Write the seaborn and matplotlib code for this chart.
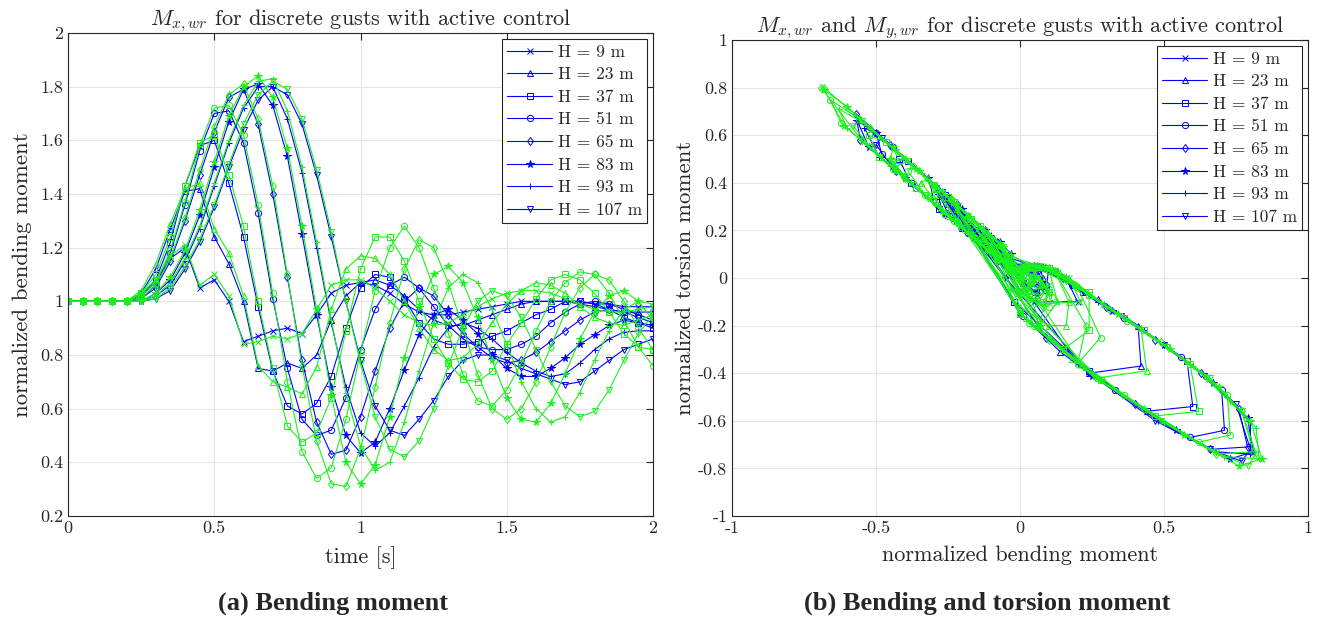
"""
gust response plots: bending moment over time and bending vs torsion
"""
import matplotlib as mpl
mpl.use('Agg')
from matplotlib import pyplot as plt
import numpy as np
import pandas as pd
import seaborn as sns

# time axis, 0.05 s per sample
time_s = [0.0, 0.05, 0.1, 0.15, 0.2, 0.25, 0.3, 0.35, 0.4, 0.45, 0.5, 0.55, 0.6, 0.65, 0.7,
          0.75, 0.8, 0.85, 0.9, 0.95, 1.0, 1.05, 1.1, 1.15, 1.2, 1.25, 1.3, 1.35, 1.4, 1.45,
          1.5, 1.55, 1.6, 1.65, 1.7, 1.75, 1.8, 1.85, 1.9, 1.95, 2.0]
heights = [9, 23, 37, 51, 65, 83, 93, 107]

# normalized bending moment, blue set
bend_blue_9 = [1, 1, 1, 1, 1, 1.02, 1.07, 1.16, 1.2, 1.05, 1.08, 1.0, 0.85, 0.87, 0.89, 0.9, 0.88, 0.95, 1.03, 1.06, 1.07,
               1.06, 1.03, 0.99, 0.96, 0.95, 0.95, 0.96, 0.97, 0.98, 0.99, 1.0, 1.0, 1.0, 1.0, 1.0, 0.99, 0.99, 0.98, 0.98, 0.98]
bend_blue_23 = [1, 1, 1, 1, 1, 1.03, 1.12, 1.27, 1.41, 1.42, 1.24, 1.14, 1.0, 0.75, 0.74, 0.77, 0.75, 0.8, 0.93, 1.02, 1.07,
                1.08, 1.06, 1.02, 0.97, 0.93, 0.91, 0.91, 0.93, 0.95, 0.97, 0.99, 1.0, 1.0, 1.0, 0.99, 0.98, 0.97, 0.96, 0.96, 0.96]
bend_blue_37 = [1, 1, 1, 1, 1, 1.02, 1.08, 1.22, 1.43, 1.58, 1.6, 1.44, 1.24, 0.98, 0.74, 0.61, 0.58, 0.62, 0.72, 0.9, 1.05,
                1.1, 1.09, 1.01, 0.92, 0.86, 0.84, 0.84, 0.85, 0.87, 0.89, 0.92, 0.95, 0.97, 1.0, 1.0, 0.99, 0.97, 0.94, 0.92, 0.9]
bend_blue_51 = [1, 1, 1, 1, 1, 1.01, 1.06, 1.18, 1.36, 1.56, 1.7, 1.71, 1.59, 1.33, 1.01, 0.75, 0.56, 0.5, 0.52, 0.64, 0.82,
                0.97, 1.06, 1.09, 1.05, 0.98, 0.91, 0.86, 0.83, 0.82, 0.82, 0.84, 0.87, 0.92, 0.96, 0.99, 1.0, 0.99, 0.97, 0.95, 0.93]
bend_blue_65 = [1, 1, 1, 1, 1, 1.01, 1.05, 1.15, 1.3, 1.47, 1.63, 1.76, 1.79, 1.66, 1.4, 1.09, 0.78, 0.55, 0.43, 0.445, 0.57,
                0.74, 0.9, 1.0, 1.05, 1.02, 0.95, 0.88, 0.83, 0.79, 0.77, 0.78, 0.81, 0.85, 0.89, 0.93, 0.96, 0.97, 0.96, 0.94, 0.92]
bend_blue_83 = [1, 1, 1, 1, 1, 1.0, 1.03, 1.08, 1.18, 1.32, 1.5, 1.67, 1.79, 1.81, 1.73, 1.54, 1.25, 0.95, 0.68, 0.5, 0.435,
                0.475, 0.6, 0.745, 0.875, 0.95, 0.97, 0.93, 0.88, 0.8, 0.75, 0.72, 0.72, 0.75, 0.79, 0.84, 0.875, 0.91, 0.93, 0.92, 0.91]
bend_blue_93 = [1, 1, 1, 1, 1, 1.0, 1.02, 1.06, 1.15, 1.27, 1.43, 1.59, 1.72, 1.8, 1.8, 1.68, 1.48, 1.2, 0.92, 0.68, 0.51,
                0.46, 0.51, 0.61, 0.715, 0.83, 0.9, 0.92, 0.9, 0.86, 0.81, 0.77, 0.74, 0.72, 0.73, 0.77, 0.82, 0.86, 0.885, 0.89, 0.89]
bend_blue_107 = [1, 1, 1, 1, 1, 1.0, 1.01, 1.04, 1.12, 1.22, 1.35, 1.5, 1.64, 1.75, 1.8, 1.77, 1.66, 1.47, 1.24, 1.0, 0.78,
                 0.61, 0.52, 0.5, 0.56, 0.63, 0.72, 0.78, 0.8, 0.8, 0.78, 0.75, 0.73, 0.71, 0.69, 0.7, 0.74, 0.78, 0.82, 0.84, 0.86]

# normalized bending moment, green set
bend_green_9 = [1, 1, 1, 1, 1, 1.03, 1.08, 1.17, 1.21, 1.06, 1.1, 1.02, 0.84, 0.85, 0.87, 0.86, 0.88, 0.97, 1.06, 1.08, 1.08,
                1.05, 1.0, 0.95, 0.92, 0.91, 0.92, 0.95, 0.98, 1.01, 1.03, 1.04, 1.04, 1.03, 1.01, 0.99, 0.97, 0.96, 0.96, 0.97, 0.98]
bend_green_23 = [1, 1, 1, 1, 1, 1.04, 1.14, 1.29, 1.42, 1.44, 1.27, 1.18, 1.02, 0.76, 0.7, 0.68, 0.655, 0.755, 0.97, 1.12, 1.17,
                 1.16, 1.1, 1.0, 0.9, 0.82, 0.78, 0.79, 0.84, 0.92, 0.99, 1.04, 1.07, 1.06, 1.03, 0.98, 0.94, 0.92, 0.91, 0.93, 0.95]
bend_green_37 = [1, 1, 1, 1, 1, 1.03, 1.1, 1.24, 1.43, 1.59, 1.62, 1.47, 1.28, 1.0, 0.75, 0.535, 0.475, 0.51, 0.64, 0.89, 1.12,
                 1.24, 1.24, 1.15, 1.0, 0.86, 0.77, 0.71, 0.7, 0.74, 0.84, 0.92, 1.01, 1.08, 1.1, 1.08, 1.03, 0.96, 0.88, 0.83, 0.82]
bend_green_51 = [1, 1, 1, 1, 1, 1.02, 1.07, 1.19, 1.37, 1.58, 1.72, 1.73, 1.62, 1.36, 1.03, 0.7, 0.44, 0.34, 0.38, 0.56, 0.81,
                 1.04, 1.2, 1.28, 1.2, 1.05, 0.88, 0.73, 0.63, 0.61, 0.67, 0.77, 0.89, 1.0, 1.07, 1.11, 1.1, 1.03, 0.93, 0.83, 0.76]
bend_green_65 = [1, 1, 1, 1, 1, 1.01, 1.06, 1.16, 1.31, 1.49, 1.65, 1.77, 1.81, 1.68, 1.43, 1.1, 0.76, 0.48, 0.32, 0.31, 0.45,
                 0.68, 0.92, 1.12, 1.23, 1.2, 1.07, 0.9, 0.73, 0.6, 0.56, 0.6, 0.7, 0.83, 0.96, 1.05, 1.1, 1.08, 1.0, 0.9, 0.82]
bend_green_83 = [1, 1, 1, 1, 1, 1.0, 1.03, 1.09, 1.19, 1.34, 1.52, 1.69, 1.8, 1.84, 1.76, 1.57, 1.28, 0.97, 0.65, 0.4, 0.32,
                 0.39, 0.57, 0.79, 0.98, 1.1, 1.13, 1.07, 0.94, 0.78, 0.64, 0.56, 0.55, 0.62, 0.73, 0.86, 0.96, 1.02, 1.04, 1.0, 0.93]
bend_green_93 = [1, 1, 1, 1, 1, 1.0, 1.02, 1.07, 1.16, 1.28, 1.44, 1.6, 1.73, 1.82, 1.83, 1.71, 1.5, 1.22, 0.93, 0.66, 0.46,
                 0.37, 0.4, 0.55, 0.74, 0.92, 1.05, 1.1, 1.07, 0.97, 0.84, 0.7, 0.6, 0.55, 0.57, 0.66, 0.78, 0.89, 0.97, 1.0, 0.99]
bend_green_107 = [1, 1, 1, 1, 1, 1.0, 1.01, 1.05, 1.13, 1.23, 1.36, 1.51, 1.66, 1.77, 1.82, 1.79, 1.68, 1.49, 1.26, 1.0, 0.77,
                  0.57, 0.45, 0.42, 0.48, 0.6, 0.76, 0.9, 1.0, 1.04, 1.02, 0.94, 0.82, 0.7, 0.61, 0.57, 0.59, 0.67, 0.78, 0.88, 0.95]

# normalized torsion moment, blue set
tors_blue_9 = [0, 0, 0, 0, 0, 0.05, 0.05, 0.0, -0.1, -0.1, -0.02, -0.05, 0.2, 0.18, 0.16, 0.15, 0.17, 0.1, 0.02, -0.02, -0.04,
               -0.07, -0.04, 0.01, 0.05, 0.07, 0.07, 0.06, 0.05, 0.04, 0.03, 0.02, 0.02, 0.02, 0.02, 0.02, 0.03, 0.03, 0.04, 0.04, 0.04]
tors_blue_23 = [0, 0, 0, 0, 0, 0.05, 0.03, -0.09, -0.2, -0.37, -0.4, -0.31, -0.15, 0.34, 0.33, 0.27, 0.31, 0.21, 0.07, 0.05, 0.04,
                0.0, -0.06, -0.03, 0.06, 0.1, 0.12, 0.12, 0.1, 0.08, 0.06, 0.04, 0.03, 0.03, 0.02, 0.03, 0.04, 0.05, 0.06, 0.06, 0.06]
tors_blue_37 = [0, 0, 0, 0, 0, 0.05, 0.04, -0.06, -0.22, -0.35, -0.54, -0.56, -0.39, -0.1, 0.35, 0.49, 0.5, 0.4, 0.29, 0.11, 0.05,
                0.04, -0.05, -0.02, 0.11, 0.18, 0.2, 0.2, 0.19, 0.17, 0.15, 0.12, 0.08, 0.06, 0.03, 0.02, 0.03, 0.05, 0.08, 0.1, 0.12]
tors_blue_51 = [0, 0, 0, 0, 0, 0.05, 0.05, -0.03, -0.17, -0.33, -0.47, -0.64, -0.67, -0.47, -0.16, 0.34, 0.55, 0.61, 0.52, 0.38, 0.19,
                0.03, 0.03, -0.03, -0.06, 0.04, 0.12, 0.18, 0.21, 0.22, 0.22, 0.2, 0.16, 0.11, 0.07, 0.04, 0.03, 0.03, 0.05, 0.07, 0.09]
tors_blue_65 = [0, 0, 0, 0, 0, 0.05, 0.05, 0.0, -0.12, -0.26, -0.4, -0.55, -0.71, -0.72, -0.53, -0.25, 0.31, 0.56, 0.69, 0.58, 0.45,
                0.27, 0.1, 0.03, 0.02, -0.04, 0.09, 0.17, 0.22, 0.27, 0.29, 0.28, 0.24, 0.2, 0.15, 0.11, 0.07, 0.06, 0.07, 0.09, 0.11]
tors_blue_83 = [0, 0, 0, 0, 0, 0.0, 0.05, 0.04, -0.03, -0.14, -0.28, -0.44, -0.59, -0.73, -0.76, -0.64, -0.41, 0.0, 0.42, 0.61, 0.66,
                0.55, 0.42, 0.27, 0.13, 0.05, 0.1, 0.15, 0.2, 0.29, 0.34, 0.37, 0.35, 0.27, 0.22, 0.17, 0.13, 0.09, 0.07, 0.15, 0.16]
tors_blue_93 = [0, 0, 0, 0, 0, 0.0, 0.05, 0.05, 0.0, -0.1, -0.22, -0.36, -0.5, -0.6, -0.74, -0.73, -0.6, -0.36, 0.12, 0.42, 0.6,
                0.63, 0.51, 0.41, 0.3, 0.18, 0.1, 0.15, 0.18, 0.22, 0.27, 0.32, 0.35, 0.33, 0.28, 0.24, 0.19, 0.15, 0.12, 0.15, 0.16]
tors_blue_107 = [0, 0, 0, 0, 0, 0.0, 0.04, 0.05, 0.03, -0.06, -0.16, -0.28, -0.41, -0.53, -0.72, -0.77, -0.72, -0.6, -0.4, -0.15, 0.3,
                 0.49, 0.59, 0.56, 0.46, 0.39, 0.29, 0.23, 0.21, 0.27, 0.29, 0.34, 0.36, 0.38, 0.39, 0.32, 0.27, 0.23, 0.19, 0.17, 0.15]

# normalized torsion moment, green set
tors_green_9 = [0, 0, 0, 0, 0, 0.05, 0.05, 0.0, -0.1, -0.11, -0.03, -0.06, 0.22, 0.2, 0.17, 0.18, 0.15, 0.07, 0.0, -0.03, -0.06,
                -0.09, -0.06, 0.03, 0.07, 0.09, 0.09, 0.07, 0.04, 0.01, -0.01, -0.02, -0.03, -0.03, -0.01, 0.01, 0.03, 0.05, 0.05, 0.05, 0.04]
tors_green_23 = [0, 0, 0, 0, 0, 0.05, 0.02, -0.11, -0.21, -0.39, -0.42, -0.34, -0.17, 0.33, 0.39, 0.42, 0.4, 0.26, 0.03, 0.03, -0.1,
                 -0.2, -0.2, -0.12, 0.14, 0.24, 0.29, 0.23, 0.17, 0.09, 0.04, 0.0, -0.03, -0.07, -0.05, 0.03, 0.08, 0.1, 0.11, 0.09, 0.07]
tors_green_37 = [0, 0, 0, 0, 0, 0.05, 0.04, -0.07, -0.22, -0.36, -0.56, -0.58, -0.43, -0.15, 0.34, 0.57, 0.6, 0.51, 0.38, 0.12, 0.03,
                 -0.06, -0.22, -0.3, -0.15, 0.22, 0.32, 0.38, 0.35, 0.27, 0.17, 0.08, 0.03, -0.02, -0.06, -0.1, -0.08, 0.09, 0.18, 0.25, 0.25]
tors_green_51 = [0, 0, 0, 0, 0, 0.05, 0.05, -0.03, -0.18, -0.35, -0.49, -0.66, -0.69, -0.49, -0.19, 0.39, 0.67, 0.75, 0.65, 0.46, 0.2,
                 0.05, -0.04, -0.25, -0.36, -0.2, 0.2, 0.36, 0.47, 0.45, 0.35, 0.24, 0.12, 0.03, 0.0, -0.08, -0.12, -0.09, 0.14, 0.25, 0.33]
tors_green_65 = [0, 0, 0, 0, 0, 0.05, 0.05, -0.01, -0.13, -0.27, -0.42, -0.56, -0.73, -0.74, -0.55, -0.26, 0.33, 0.63, 0.8, 0.8, 0.58,
                 0.34, 0.08, 0.03, -0.2, -0.36, -0.2, 0.17, 0.36, 0.5, 0.49, 0.42, 0.32, 0.18, 0.04, 0.01, -0.06, -0.12, -0.06, 0.17, 0.26]
tors_green_83 = [0, 0, 0, 0, 0, 0.0, 0.05, 0.04, -0.03, -0.15, -0.3, -0.46, -0.6, -0.76, -0.79, -0.66, -0.43, -0.05, 0.45, 0.72, 0.79,
                 0.64, 0.45, 0.22, 0.02, 0.04, -0.1, -0.2, 0.13, 0.31, 0.46, 0.55, 0.5, 0.4, 0.28, 0.15, 0.04, 0.03, -0.02, -0.08, 0.14]
tors_green_93 = [0, 0, 0, 0, 0, 0.0, 0.05, 0.05, 0.01, -0.1, -0.23, -0.37, -0.52, -0.63, -0.76, -0.75, -0.61, -0.38, 0.15, 0.44, 0.65,
                 0.71, 0.63, 0.47, 0.27, 0.08, 0.03, -0.06, -0.18, 0.1, 0.24, 0.39, 0.5, 0.5, 0.45, 0.36, 0.23, 0.12, 0.03, 0.02, 0.04]
tors_green_107 = [0, 0, 0, 0, 0, 0.0, 0.04, 0.05, 0.02, -0.06, -0.17, -0.29, -0.42, -0.56, -0.74, -0.79, -0.73, -0.6, -0.42, -0.15, 0.32,
                  0.53, 0.66, 0.64, 0.55, 0.42, 0.25, 0.1, 0.03, 0.0, -0.05, 0.13, 0.26, 0.39, 0.49, 0.47, 0.43, 0.35, 0.23, 0.13, 0.05]

bend_blue = [bend_blue_9, bend_blue_23, bend_blue_37, bend_blue_51, bend_blue_65, bend_blue_83, bend_blue_93, bend_blue_107]
bend_green = [bend_green_9, bend_green_23, bend_green_37, bend_green_51, bend_green_65, bend_green_83, bend_green_93, bend_green_107]
tors_blue = [tors_blue_9, tors_blue_23, tors_blue_37, tors_blue_51, tors_blue_65, tors_blue_83, tors_blue_93, tors_blue_107]
tors_green = [tors_green_9, tors_green_23, tors_green_37, tors_green_51, tors_green_65, tors_green_83, tors_green_93, tors_green_107]

# long table for seaborn
frames = []
for case, bends, torss in [('blue', bend_blue, tors_blue), ('green', bend_green, tors_green)]:
    for h, b, q in zip(heights, bends, torss):
        d = pd.DataFrame({'t': time_s, 'bend': b, 'tors': q})
        d['bend_inc'] = d['bend'] - 1.0  # right panel shows the increment
        d['H'] = h
        d['case'] = case
        frames.append(d)
data = pd.concat(frames, ignore_index=True)

markers = ['x', '^', 's', 'o', 'd', '*', '+', 'v']
colors = {'blue': (0, 0, 1), 'green': (0.1, 0.95, 0.1)}
dark = '#262626'

sns.set_style('white')
plt.rcParams['font.family'] = ['cmr10', 'DejaVu Serif']
plt.rcParams['mathtext.fontset'] = 'cm'
plt.rcParams['axes.unicode_minus'] = False
plt.rcParams['axes.formatter.use_mathtext'] = True

fig = plt.figure(figsize=(13.33, 6.21), dpi=100)
ax1 = fig.add_axes([68 / 1333, 105 / 621, 585 / 1333, 483 / 621])
ax2 = fig.add_axes([732 / 1333, 105 / 621, 576 / 1333, 476 / 621])


def draw(ax, xcol, ycol):
    for case in ['blue', 'green']:
        for h, mk in zip(heights, markers):
            d = data[(data['case'] == case) & (data['H'] == h)]
            open_mk = mk not in ('x', '*', '+')
            sns.lineplot(data=d, x=xcol, y=ycol, ax=ax, color=colors[case], lw=0.8,
                         marker=mk, markersize=4.5 if mk != '*' else 5.5,
                         markerfacecolor='none' if open_mk else colors[case],
                         markeredgecolor=colors[case], markeredgewidth=0.7,
                         estimator=None, sort=False, legend=False)


def style(ax, xt, xl, yt, yl):
    ax.set_xticks(xt)
    ax.set_xticklabels(xl)
    ax.set_yticks(yt)
    ax.set_yticklabels(yl)
    ax.grid(True, color='#e5e5e5', lw=0.8)
    ax.set_axisbelow(True)
    ax.tick_params(direction='in', top=True, right=True, labelsize=13, length=5,
                   color=dark, labelcolor=dark, width=0.8)
    for s in ax.spines.values():
        s.set_color(dark)
        s.set_linewidth(0.8)


draw(ax1, 't', 'bend')
ax1.set_xlim(0, 2)
ax1.set_ylim(0.2, 2)
style(ax1, [0, 0.5, 1, 1.5, 2], ['0', '0.5', '1', '1.5', '2'],
      [0.2, 0.4, 0.6, 0.8, 1, 1.2, 1.4, 1.6, 1.8, 2],
      ['0.2', '0.4', '0.6', '0.8', '1', '1.2', '1.4', '1.6', '1.8', '2'])
ax1.set_xlabel('time [s]', fontsize=16, color=dark, labelpad=7)
ax1.set_ylabel('normalized bending moment', fontsize=16.5, color=dark, labelpad=6)
ax1.set_title(r'$M_{x,wr}$ for discrete gusts with active control', fontsize=16, pad=6)

draw(ax2, 'bend_inc', 'tors')
ax2.set_xlim(-1, 1)
ax2.set_ylim(-1, 1)
style(ax2, [-1, -0.5, 0, 0.5, 1], ['-1', '-0.5', '0', '0.5', '1'],
      [-1, -0.8, -0.6, -0.4, -0.2, 0, 0.2, 0.4, 0.6, 0.8, 1],
      ['-1', '-0.8', '-0.6', '-0.4', '-0.2', '0', '0.2', '0.4', '0.6', '0.8', '1'])
ax2.set_xlabel('normalized bending moment', fontsize=16, color=dark, labelpad=7)
ax2.set_ylabel('normalized torsion moment', fontsize=16.5, color=dark, labelpad=2)
ax2.set_title(r'$M_{x,wr}$ and $M_{y,wr}$ for discrete gusts with active control', fontsize=16, pad=6)

labels = ['H = %d m' % h for h in heights]
for ax in (ax1, ax2):
    handles = ax.get_lines()[:len(heights)]
    leg = ax.legend(handles, labels, loc='upper right', fontsize=12.5, frameon=True, fancybox=False,
                    edgecolor=dark, framealpha=1, handlelength=2.6, labelspacing=0.42,
                    borderaxespad=0.35, borderpad=0.3, handletextpad=0.3)
    leg.get_frame().set_linewidth(0.8)

fig.text(333 / 1333, 1 - 603 / 621, '(a) Bending moment', ha='center', va='center',
         fontsize=19, fontweight='bold', family='Liberation Serif')
fig.text(987 / 1333, 1 - 603 / 621, '(b) Bending and torsion moment', ha='center', va='center',
         fontsize=19, fontweight='bold', family='Liberation Serif')

fig.savefig('out.png', dpi=100, facecolor='white')
